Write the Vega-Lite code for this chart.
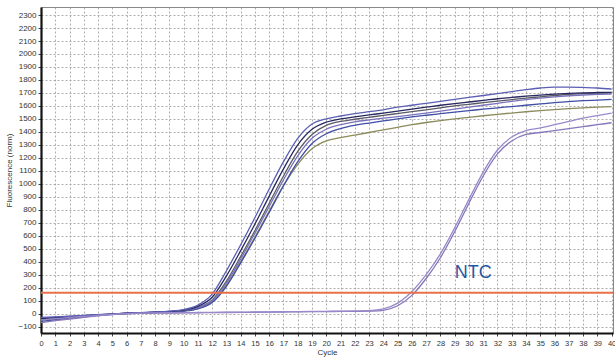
{
  "$schema": "https://vega.github.io/schema/vega-lite/v6.json",
  "width": 572,
  "height": 326,
  "autosize": "none",
  "padding": {"left": 41, "top": 7, "right": 2, "bottom": 28},
  "background": "white",
  "config": {
    "font": "Liberation Sans",
    "view": {"stroke": "#888", "strokeWidth": 1},
    "axis": {
      "labelFont": "Liberation Sans",
      "titleFont": "Liberation Sans",
      "labelFontSize": 8,
      "titleFontSize": 8,
      "titleFontWeight": "normal",
      "labelColor": "#333",
      "titleColor": "#333",
      "gridColor": "#999",
      "gridDash": [2, 2],
      "gridWidth": 0.8,
      "domainColor": "#111",
      "domainWidth": 2.2,
      "tickColor": "#444",
      "tickSize": 3,
      "labelOverlap": false,
      "format": "d"
    }
  },
  "datasets": {
    "curves": [
      {"cycle": 0, "P1": -30, "P2": -40, "P3": -50, "P4": -60, "P5": -35, "P6": -45, "N1": -50, "N2": -70},
      {"cycle": 1, "P1": -25, "P2": -32, "P3": -40, "P4": -48, "P5": -28, "P6": -36, "N1": -40, "N2": -55},
      {"cycle": 2, "P1": -20, "P2": -25, "P3": -30, "P4": -36, "P5": -22, "P6": -28, "N1": -30, "N2": -42},
      {"cycle": 3, "P1": -14, "P2": -18, "P3": -22, "P4": -26, "P5": -16, "P6": -20, "N1": -22, "N2": -30},
      {"cycle": 4, "P1": -8, "P2": -10, "P3": -12, "P4": -14, "P5": -9, "P6": -11, "N1": -14, "N2": -18},
      {"cycle": 5, "P1": -3, "P2": -4, "P3": -5, "P4": -6, "P5": -4, "P6": -5, "N1": -6, "N2": -8},
      {"cycle": 6, "P1": 2, "P2": 2, "P3": 1, "P4": 0, "P5": 2, "P6": 1, "N1": 0, "N2": -2},
      {"cycle": 7, "P1": 6, "P2": 6, "P3": 5, "P4": 4, "P5": 6, "P6": 5, "N1": 3, "N2": 1},
      {"cycle": 8, "P1": 11, "P2": 10, "P3": 9, "P4": 8, "P5": 10, "P6": 9, "N1": 5, "N2": 3},
      {"cycle": 9, "P1": 18, "P2": 16, "P3": 13, "P4": 11, "P5": 14, "P6": 12, "N1": 6, "N2": 4},
      {"cycle": 10, "P1": 30, "P2": 26, "P3": 22, "P4": 18, "P5": 24, "P6": 20, "N1": 7, "N2": 5},
      {"cycle": 11, "P1": 65, "P2": 55, "P3": 45, "P4": 36, "P5": 45, "P6": 40, "N1": 8, "N2": 6},
      {"cycle": 12, "P1": 150, "P2": 125, "P3": 105, "P4": 85, "P5": 100, "P6": 92, "N1": 9, "N2": 7},
      {"cycle": 13, "P1": 330, "P2": 290, "P3": 250, "P4": 210, "P5": 235, "P6": 220, "N1": 10, "N2": 8},
      {"cycle": 14, "P1": 530, "P2": 485, "P3": 440, "P4": 390, "P5": 420, "P6": 400, "N1": 11, "N2": 9},
      {"cycle": 15, "P1": 740, "P2": 690, "P3": 640, "P4": 580, "P5": 620, "P6": 590, "N1": 12, "N2": 10},
      {"cycle": 16, "P1": 960, "P2": 905, "P3": 850, "P4": 780, "P5": 825, "P6": 790, "N1": 13, "N2": 11},
      {"cycle": 17, "P1": 1170, "P2": 1115, "P3": 1060, "P4": 985, "P5": 1030, "P6": 985, "N1": 14, "N2": 12},
      {"cycle": 18, "P1": 1350, "P2": 1300, "P3": 1250, "P4": 1170, "P5": 1215, "P6": 1150, "N1": 15, "N2": 13},
      {"cycle": 19, "P1": 1460, "P2": 1420, "P3": 1380, "P4": 1310, "P5": 1350, "P6": 1270, "N1": 16, "N2": 14},
      {"cycle": 20, "P1": 1500, "P2": 1475, "P3": 1450, "P4": 1385, "P5": 1420, "P6": 1330, "N1": 17, "N2": 15},
      {"cycle": 21, "P1": 1522, "P2": 1500, "P3": 1480, "P4": 1425, "P5": 1455, "P6": 1355, "N1": 18, "N2": 16},
      {"cycle": 22, "P1": 1540, "P2": 1515, "P3": 1497, "P4": 1450, "P5": 1477, "P6": 1375, "N1": 20, "N2": 17},
      {"cycle": 23, "P1": 1555, "P2": 1530, "P3": 1512, "P4": 1468, "P5": 1492, "P6": 1395, "N1": 22, "N2": 19},
      {"cycle": 24, "P1": 1570, "P2": 1545, "P3": 1527, "P4": 1484, "P5": 1505, "P6": 1415, "N1": 35, "N2": 25},
      {"cycle": 25, "P1": 1590, "P2": 1560, "P3": 1541, "P4": 1500, "P5": 1517, "P6": 1435, "N1": 80, "N2": 60},
      {"cycle": 26, "P1": 1605, "P2": 1575, "P3": 1555, "P4": 1515, "P5": 1530, "P6": 1455, "N1": 170, "N2": 140},
      {"cycle": 27, "P1": 1620, "P2": 1590, "P3": 1570, "P4": 1528, "P5": 1545, "P6": 1472, "N1": 300, "N2": 270},
      {"cycle": 28, "P1": 1635, "P2": 1605, "P3": 1585, "P4": 1540, "P5": 1560, "P6": 1487, "N1": 460, "N2": 430},
      {"cycle": 29, "P1": 1650, "P2": 1618, "P3": 1600, "P4": 1552, "P5": 1575, "P6": 1500, "N1": 660, "N2": 630},
      {"cycle": 30, "P1": 1665, "P2": 1630, "P3": 1612, "P4": 1563, "P5": 1590, "P6": 1512, "N1": 880, "N2": 850},
      {"cycle": 31, "P1": 1680, "P2": 1642, "P3": 1625, "P4": 1575, "P5": 1605, "P6": 1524, "N1": 1090, "N2": 1060},
      {"cycle": 32, "P1": 1695, "P2": 1655, "P3": 1637, "P4": 1585, "P5": 1620, "P6": 1535, "N1": 1260, "N2": 1230},
      {"cycle": 33, "P1": 1710, "P2": 1665, "P3": 1648, "P4": 1595, "P5": 1635, "P6": 1545, "N1": 1360, "N2": 1330},
      {"cycle": 34, "P1": 1725, "P2": 1675, "P3": 1660, "P4": 1605, "P5": 1648, "P6": 1555, "N1": 1410, "N2": 1380},
      {"cycle": 35, "P1": 1738, "P2": 1683, "P3": 1670, "P4": 1615, "P5": 1660, "P6": 1564, "N1": 1430, "N2": 1395},
      {"cycle": 36, "P1": 1745, "P2": 1690, "P3": 1680, "P4": 1625, "P5": 1670, "P6": 1572, "N1": 1455, "N2": 1410},
      {"cycle": 37, "P1": 1745, "P2": 1696, "P3": 1688, "P4": 1633, "P5": 1678, "P6": 1579, "N1": 1480, "N2": 1425},
      {"cycle": 38, "P1": 1742, "P2": 1700, "P3": 1694, "P4": 1640, "P5": 1684, "P6": 1585, "N1": 1505, "N2": 1440},
      {"cycle": 39, "P1": 1738, "P2": 1703, "P3": 1698, "P4": 1645, "P5": 1688, "P6": 1590, "N1": 1525, "N2": 1455},
      {"cycle": 40, "P1": 1730, "P2": 1705, "P3": 1700, "P4": 1650, "P5": 1690, "P6": 1595, "N1": 1545, "N2": 1470}
    ],
    "threshold": [{"value": 160}],
    "labels": [{"cycle": 30.3, "value": 312, "text": "NTC"}]
  },
  "layer": [
    {
      "data": {"name": "curves"},
      "transform": [{"fold": ["P6", "P4", "P3", "P5", "P2", "P1", "N2", "N1"], "as": ["series", "value"]}],
      "mark": {"type": "line", "strokeWidth": 1.3, "interpolate": "monotone", "clip": true},
      "encoding": {
        "x": {
          "field": "cycle", "type": "quantitative",
          "scale": {"domain": [0, 40.1], "nice": false, "zero": false},
          "axis": {
            "values": [0,1,2,3,4,5,6,7,8,9,10,11,12,13,14,15,16,17,18,19,20,21,22,23,24,25,26,27,28,29,30,31,32,33,34,35,36,37,38,39,40],
            "title": "Cycle", "labelPadding": 3, "titlePadding": 2, "labelFlush": false, "labelFontSize": 7.5
          }
        },
        "y": {
          "field": "value", "type": "quantitative",
          "scale": {"domain": [-150, 2362], "nice": false, "zero": false},
          "axis": {
            "values": [-100,0,100,200,300,400,500,600,700,800,900,1000,1100,1200,1300,1400,1500,1600,1700,1800,1900,2000,2100,2200,2300],
            "title": "Fluorescence (norm)", "titleX": -32, "titleY": 163, "titleBaseline": "middle", "labelPadding": 2, "labelFlush": false
          }
        },
        "color": {
          "field": "series", "type": "nominal", "legend": null,
          "scale": {
            "domain": ["P1", "P2", "P3", "P4", "P5", "P6", "N1", "N2"],
            "range": ["#5a5fb5", "#27285e", "#5a5a66", "#3f4ea6", "#7a72bb", "#8b8b5c", "#9a8acb", "#8676bb"]
          }
        },
        "detail": {"field": "series"}
      }
    },
    {
      "data": {"name": "threshold"},
      "mark": {"type": "rule", "color": "#e8704a", "strokeWidth": 2},
      "encoding": {
        "y": {
          "field": "value", "type": "quantitative",
          "scale": {"domain": [-150, 2362], "nice": false, "zero": false},
          "axis": {
            "values": [-100,0,100,200,300,400,500,600,700,800,900,1000,1100,1200,1300,1400,1500,1600,1700,1800,1900,2000,2100,2200,2300],
            "title": "Fluorescence (norm)", "titleX": -32, "titleY": 163, "titleBaseline": "middle", "labelPadding": 2, "labelFlush": false
          }
        }
      }
    },
    {
      "data": {"name": "labels"},
      "mark": {"type": "text", "color": "#1f57a3", "fontSize": 18, "font": "Liberation Sans", "align": "center", "baseline": "middle"},
      "encoding": {
        "x": {
          "field": "cycle", "type": "quantitative",
          "scale": {"domain": [0, 40.1], "nice": false, "zero": false},
          "axis": {
            "values": [0,1,2,3,4,5,6,7,8,9,10,11,12,13,14,15,16,17,18,19,20,21,22,23,24,25,26,27,28,29,30,31,32,33,34,35,36,37,38,39,40],
            "title": "Cycle", "labelPadding": 3, "titlePadding": 2, "labelFlush": false, "labelFontSize": 7.5
          }
        },
        "y": {
          "field": "value", "type": "quantitative",
          "scale": {"domain": [-150, 2362], "nice": false, "zero": false},
          "axis": {
            "values": [-100,0,100,200,300,400,500,600,700,800,900,1000,1100,1200,1300,1400,1500,1600,1700,1800,1900,2000,2100,2200,2300],
            "title": "Fluorescence (norm)", "titleX": -32, "titleY": 163, "titleBaseline": "middle", "labelPadding": 2, "labelFlush": false
          }
        },
        "text": {"field": "text"}
      }
    }
  ]
}
